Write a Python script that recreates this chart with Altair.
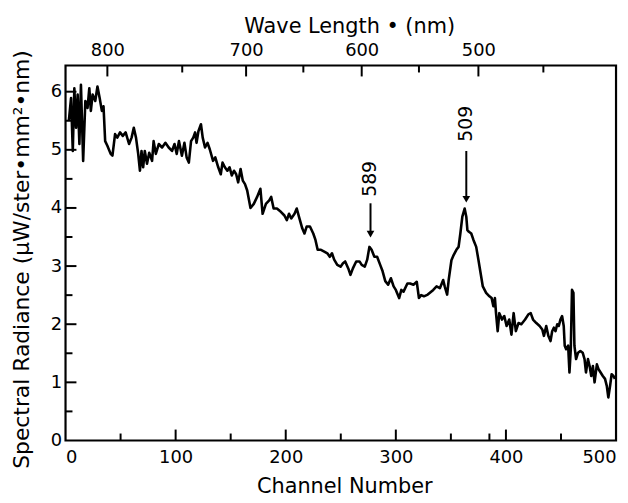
import altair as alt
import pandas as pd

# ---- data ----
channel = [3, 5, 6.6, 8, 9.6, 11, 12.6, 14, 16, 18, 20, 21.6, 23, 24.6, 27, 29, 31, 33, 34.5, 36, 38, 41,
           42.6, 45, 47, 49.5, 52, 54.6, 57.7, 60, 62, 64, 66, 67.6, 69, 70.5, 72, 74, 76, 78.6, 80, 82,
           84.7, 87.7, 90.7, 93.7, 96.7, 99, 101, 103, 105.7, 108, 110, 112, 114, 116, 117.7, 119, 120.7,
           123, 124.6, 126.7, 129, 131, 134, 136, 138.7, 141, 142.6, 144.7, 147, 149, 151, 153, 155,
           156.8, 159, 161, 163, 165, 168, 171, 174, 177, 179, 182, 185, 186.8, 189, 192, 195.8, 198.8,
           201, 203, 205, 208, 210, 212, 215, 217, 219, 222, 225, 227, 229, 232, 235, 237.8, 240, 242,
           244, 246.8, 249.8, 252, 254, 256.8, 258.8, 261, 264, 267, 269, 271.8, 274, 276, 278, 280.5,
           283, 285.8, 288, 290.4, 293, 295.5, 298, 300, 303, 305, 307, 310.5, 313, 316, 319, 321, 323,
           325.5, 329, 334, 337, 340, 343, 344.4, 346.6, 348, 350.5, 352.5, 355, 357, 358.6, 360.4,
           362.5, 364, 365, 366.4, 368.5, 370.5, 373, 375, 377.5, 379, 382, 385, 387, 388.6, 390, 391,
           392.5, 394, 396.4, 398.5, 400.6, 403, 405, 407, 409, 411.4, 414, 417.4, 420.4, 422.5, 424.6,
           427.6, 430.6, 433, 434.5, 436.6, 438.5, 440.5, 442, 443.5, 445, 446.6, 448, 449.5, 451,
           452.5, 453.4, 454.7, 456.5, 457.7, 458.9, 460, 461.3, 462.2, 463.7, 465.5, 467.6, 469.7,
           471.4, 472.7, 474.5, 476, 477.5, 479, 480.5, 482.6, 484, 486, 488, 490, 491.6, 493, 494.6,
           496, 497.6, 499]
radiance = [5.5, 5.89, 4.98, 6.06, 5.38, 5.95, 5.1, 6.12, 4.81, 5.84, 5.72, 6.06, 5.67, 5.95, 5.84, 6.09,
            5.89, 5.67, 5.75, 5.15, 5.07, 4.93, 4.9, 5.27, 5.21, 5.3, 5.24, 5.3, 5.1, 5.21, 5.38, 5.21,
            4.93, 4.64, 4.98, 4.7, 4.98, 4.76, 4.95, 4.81, 5.15, 4.93, 5.1, 5.04, 5.12, 5.04, 4.98, 5.1,
            4.93, 5.15, 4.9, 5.12, 4.87, 4.78, 5.15, 5.21, 5.3, 5.12, 5.32, 5.44, 5.21, 5.04, 5.12, 5.01,
            4.81, 4.87, 4.7, 4.58, 4.78, 4.7, 4.64, 4.7, 4.56, 4.64, 4.58, 4.44, 4.67, 4.47, 4.41, 4.3,
            4.0, 4.07, 4.19, 4.33, 3.9, 4.07, 4.13, 4.19, 3.99, 3.99, 3.93, 3.87, 3.79, 3.9, 3.82, 3.9,
            3.99, 3.85, 3.65, 3.56, 3.68, 3.68, 3.56, 3.45, 3.28, 3.28, 3.25, 3.22, 3.16, 3.22, 3.11,
            3.02, 2.99, 3.05, 3.08, 2.96, 2.85, 2.96, 3.08, 3.08, 3.02, 2.99, 3.11, 3.33, 3.28, 3.16,
            3.16, 3.02, 2.91, 2.74, 2.68, 2.79, 2.65, 2.59, 2.45, 2.59, 2.56, 2.7, 2.7, 2.68, 2.73, 2.45,
            2.5, 2.48, 2.51, 2.59, 2.65, 2.62, 2.76, 2.65, 2.51, 2.76, 3.1, 3.19, 3.28, 3.33, 3.56, 3.85,
            3.99, 3.85, 3.62, 3.59, 3.56, 3.45, 3.33, 3.11, 2.82, 2.65, 2.54, 2.48, 2.45, 2.31, 2.45,
            2.19, 1.88, 2.19, 2.08, 2.14, 1.97, 2.08, 1.82, 2.19, 1.88, 2.02, 2.0, 2.08, 2.17, 2.19, 2.08,
            2.02, 1.97, 1.91, 1.8, 1.97, 1.8, 1.71, 1.88, 1.94, 1.88, 2.0, 1.97, 2.08, 2.14, 1.97, 1.63,
            1.57, 1.63, 1.17, 1.57, 2.59, 2.54, 1.63, 1.4, 1.51, 1.54, 1.51, 1.4, 1.17, 1.4, 1.28, 1.11,
            1.28, 1.0, 1.31, 1.23, 1.17, 1.11, 1.06, 0.94, 0.74, 0.94, 1.14, 1.11, 1.06]

bottom_major = [100, 200, 300, 400]
bottom_minor = [50, 150, 250, 350, 385, 450]
left_major = [1, 2, 3, 4, 5, 6]
left_minor = [0.5, 1.5, 2.5, 3.5, 4.5, 5.5]
bottom_labels = [0, 100, 200, 300, 400, 500]
y_labels = [0, 1, 2, 3, 4, 5, 6]

# wavelength axis (top): channel position of each wavelength tick
wl_major_ch = [38, 164, 269, 375]
wl_major_lab = ["800", "700", "600", "500"]
wl_minor_ch = [106, 216, 321, 434]

# peak annotations
peak_label = ["589", "509"]
peak_ch = [277, 364]
arrow_top = [4.08, 4.98]
arrow_tip = [3.55, 4.15]
label_y = [4.5, 5.45]

W, H = 555, 378
FONT = "DejaVu Sans"

xs = alt.Scale(domain=[0, 500], nice=False, zero=False)
ys = alt.Scale(domain=[0, 6.45], nice=False, zero=False)

curve = pd.DataFrame({"ch": channel, "r": radiance})

line = alt.Chart(curve).mark_line(color="black", strokeWidth=2.6, strokeJoin="round").encode(
    x=alt.X("ch:Q", scale=xs,
            axis=alt.Axis(orient="bottom", values=bottom_labels, ticks=False, domain=False, grid=False,
                          labelFontSize=18, labelPadding=8, labelColor="black",
                          title="Channel Number", titleFontSize=21, titleFontWeight="normal",
                          titleColor="black", titleX=281, titleY=46, titleAlign="center",
                          titleBaseline="middle")),
    y=alt.Y("r:Q", scale=ys,
            axis=alt.Axis(orient="left", values=y_labels, ticks=False, domain=False, grid=False,
                          labelFontSize=18, labelPadding=4, labelColor="black",
                          title="Spectral Radiance (\u03bcW/ster\u2022mm\u00b2\u2022nm)",
                          titleFontSize=22, titleFontWeight="normal", titleColor="black",
                          titleX=-44, titleY=195, titleAngle=270, titleAlign="center",
                          titleBaseline="middle")),
)

def xticks(vals, length, top=False):
    df = pd.DataFrame({"v": vals})
    if top:
        y, y2 = alt.value(0), alt.value(length)
    else:
        y, y2 = alt.value(H), alt.value(H - length)
    return alt.Chart(df).mark_rule(color="black", strokeWidth=2).encode(
        x=alt.X("v:Q", scale=xs, axis=None), y=y, y2=y2)

def yticks(vals, length):
    df = pd.DataFrame({"v": vals})
    return alt.Chart(df).mark_rule(color="black", strokeWidth=2).encode(
        y=alt.Y("v:Q", scale=ys, axis=None), x=alt.value(0), x2=alt.value(length))

label_expr = " : ".join(
    f"datum.value == {c} ? '{l}'" for c, l in zip(wl_major_ch, wl_major_lab)) + " : ''"

top_major = alt.Chart(pd.DataFrame({"v": wl_major_ch})).mark_rule(color="black", strokeWidth=2).encode(
    x=alt.X("v:Q", scale=xs,
            axis=alt.Axis(orient="top", values=wl_major_ch, labelExpr=label_expr, ticks=False,
                          domain=False, grid=False, labelFontSize=18, labelPadding=6,
                          labelColor="black", title="Wave Length \u2022 (nm)", titleFontSize=21,
                          titleFontWeight="normal", titleColor="black", titleX=286, titleY=-39,
                          titleAlign="center", titleBaseline="middle")),
    y=alt.value(0), y2=alt.value(11))

ann = pd.DataFrame({"lab": peak_label, "ch": peak_ch, "top": arrow_top, "tip": arrow_tip, "ly": label_y})
shaft = alt.Chart(ann).mark_rule(color="black", strokeWidth=2).encode(
    x=alt.X("ch:Q", scale=xs, axis=None), y=alt.Y("top:Q", scale=ys, axis=None), y2="tip:Q")
head = alt.Chart(ann).mark_point(shape="triangle-down", filled=True, color="black", size=60, opacity=1).encode(
    x=alt.X("ch:Q", scale=xs, axis=None), y=alt.Y("tip:Q", scale=ys, axis=None))
txt = alt.Chart(ann).mark_text(angle=270, fontSize=19, color="black", font=FONT).encode(
    x=alt.X("ch:Q", scale=xs, axis=None), y=alt.Y("ly:Q", scale=ys, axis=None), text="lab:N")

chart = alt.layer(
    line, top_major,
    xticks(bottom_major, 11), xticks(bottom_minor, 7), xticks(wl_minor_ch, 7, top=True),
    yticks(left_major, 11), yticks(left_minor, 7),
    shaft, head, txt,
).resolve_axis(x="independent", y="independent").properties(
    width=W, height=H,
    autosize=alt.AutoSizeParams(type="none"),
    padding={"left": 58, "top": 56, "right": 4, "bottom": 56},
).configure(font=FONT).configure_view(stroke="black", strokeWidth=2.2)

chart.save("out.html", embed_options={"renderer": "svg", "actions": False})
